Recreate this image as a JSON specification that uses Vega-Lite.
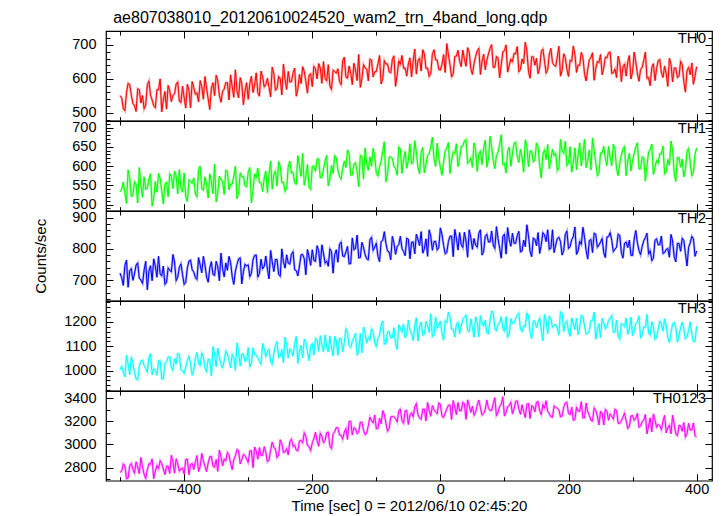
{
"$schema": "https://vega.github.io/schema/vega-lite/v6.json",
"padding": {"left": 33, "top": 9, "right": 5, "bottom": 0},
"background": "white",
"title": {"text": "ae807038010_20120610024520_wam2_trn_4band_long.qdp", "anchor": "start", "dx": 80, "offset": 4, "fontSize": 16, "font": "Liberation Sans", "fontWeight": "normal", "color": "#000"},
"data": {"values": [
{"t":-500,"a":551,"b":533,"c":722,"d":1005,"e":2760},
{"t":-497.5,"a":544,"b":540,"c":708,"d":1018,"e":2768},
{"t":-495,"a":513,"b":558,"c":683,"d":994,"e":2833},
{"t":-492.5,"a":506,"b":530,"c":747,"d":975,"e":2814},
{"t":-490,"a":559,"b":503,"c":764,"d":1063,"e":2704},
{"t":-487.5,"a":587,"b":590,"c":677,"d":1027,"e":2711},
{"t":-485,"a":584,"b":570,"c":730,"d":984,"e":2816},
{"t":-482.5,"a":552,"b":521,"c":737,"d":1057,"e":2836},
{"t":-480,"a":528,"b":524,"c":699,"d":1029,"e":2784},
{"t":-477.5,"a":521,"b":560,"c":720,"d":994,"e":2752},
{"t":-475,"a":504,"b":553,"c":748,"d":966,"e":2850},
{"t":-472.5,"a":571,"b":504,"c":755,"d":962,"e":2805},
{"t":-470,"a":568,"b":596,"c":706,"d":1019,"e":2747},
{"t":-467.5,"a":529,"b":550,"c":700,"d":1040,"e":2888},
{"t":-465,"a":551,"b":519,"c":689,"d":1044,"e":2807},
{"t":-462.5,"a":512,"b":572,"c":732,"d":1022,"e":2742},
{"t":-460,"a":523,"b":540,"c":760,"d":1009,"e":2705},
{"t":-457.5,"a":583,"b":541,"c":669,"d":994,"e":2782},
{"t":-455,"a":594,"b":566,"c":729,"d":1054,"e":2834},
{"t":-452.5,"a":552,"b":580,"c":746,"d":1070,"e":2829},
{"t":-450,"a":538,"b":496,"c":698,"d":983,"e":2875},
{"t":-447.5,"a":521,"b":517,"c":768,"d":1008,"e":2705},
{"t":-445,"a":515,"b":560,"c":744,"d":1000,"e":2766},
{"t":-442.5,"a":568,"b":532,"c":709,"d":981,"e":2819},
{"t":-440,"a":568,"b":581,"c":776,"d":1041,"e":2788},
{"t":-437.5,"a":600,"b":567,"c":720,"d":1042,"e":2860},
{"t":-435,"a":503,"b":536,"c":713,"d":966,"e":2835},
{"t":-432.5,"a":538,"b":502,"c":745,"d":967,"e":2788},
{"t":-430,"a":563,"b":554,"c":686,"d":1031,"e":2739},
{"t":-427.5,"a":511,"b":558,"c":693,"d":1036,"e":2812},
{"t":-425,"a":581,"b":520,"c":739,"d":1056,"e":2813},
{"t":-422.5,"a":565,"b":580,"c":732,"d":1057,"e":2749},
{"t":-420,"a":533,"b":573,"c":726,"d":1013,"e":2906},
{"t":-417.5,"a":552,"b":541,"c":782,"d":1001,"e":2848},
{"t":-415,"a":556,"b":587,"c":758,"d":1050,"e":2752},
{"t":-412.5,"a":585,"b":574,"c":698,"d":1027,"e":2876},
{"t":-410,"a":591,"b":528,"c":709,"d":1071,"e":2832},
{"t":-407.5,"a":535,"b":591,"c":741,"d":1068,"e":2768},
{"t":-405,"a":530,"b":543,"c":752,"d":1004,"e":2789},
{"t":-402.5,"a":579,"b":532,"c":717,"d":1000,"e":2796},
{"t":-400,"a":545,"b":582,"c":686,"d":989,"e":2745},
{"t":-397.5,"a":514,"b":519,"c":693,"d":1014,"e":2871},
{"t":-395,"a":584,"b":508,"c":739,"d":1043,"e":2873},
{"t":-392.5,"a":567,"b":564,"c":761,"d":1059,"e":2738},
{"t":-390,"a":515,"b":561,"c":764,"d":1032,"e":2825},
{"t":-387.5,"a":592,"b":555,"c":733,"d":981,"e":2836},
{"t":-385,"a":575,"b":569,"c":726,"d":1002,"e":2783},
{"t":-382.5,"a":555,"b":527,"c":708,"d":1050,"e":2851},
{"t":-380,"a":559,"b":520,"c":702,"d":1075,"e":2904},
{"t":-377.5,"a":532,"b":590,"c":772,"d":1032,"e":2767},
{"t":-375,"a":595,"b":600,"c":748,"d":1021,"e":2807},
{"t":-372.5,"a":578,"b":541,"c":723,"d":1073,"e":2923},
{"t":-370,"a":540,"b":537,"c":776,"d":1058,"e":2857},
{"t":-367.5,"a":607,"b":572,"c":748,"d":1011,"e":2810},
{"t":-365,"a":573,"b":551,"c":710,"d":996,"e":2766},
{"t":-362.5,"a":541,"b":517,"c":693,"d":1048,"e":2840},
{"t":-360,"a":510,"b":580,"c":738,"d":1045,"e":2894},
{"t":-357.5,"a":573,"b":559,"c":759,"d":978,"e":2896},
{"t":-355,"a":589,"b":528,"c":718,"d":1099,"e":2814},
{"t":-352.5,"a":551,"b":605,"c":715,"d":1067,"e":2803},
{"t":-350,"a":611,"b":507,"c":760,"d":1016,"e":2870},
{"t":-347.5,"a":594,"b":531,"c":743,"d":1093,"e":2768},
{"t":-345,"a":552,"b":574,"c":698,"d":1054,"e":2952},
{"t":-342.5,"a":531,"b":564,"c":786,"d":1026,"e":2896},
{"t":-340,"a":563,"b":561,"c":737,"d":1011,"e":2814},
{"t":-337.5,"a":570,"b":526,"c":710,"d":1040,"e":2874},
{"t":-335,"a":589,"b":589,"c":755,"d":1081,"e":2857},
{"t":-332.5,"a":589,"b":587,"c":731,"d":1069,"e":2931},
{"t":-330,"a":538,"b":538,"c":776,"d":1042,"e":2907},
{"t":-327.5,"a":612,"b":553,"c":756,"d":1011,"e":2838},
{"t":-325,"a":577,"b":553,"c":711,"d":1068,"e":2782},
{"t":-322.5,"a":546,"b":574,"c":686,"d":1056,"e":2869},
{"t":-320,"a":627,"b":599,"c":729,"d":1001,"e":2903},
{"t":-317.5,"a":564,"b":515,"c":750,"d":1114,"e":2957},
{"t":-315,"a":544,"b":530,"c":768,"d":1079,"e":2947},
{"t":-312.5,"a":604,"b":583,"c":771,"d":1019,"e":2832},
{"t":-310,"a":587,"b":572,"c":688,"d":1068,"e":2867},
{"t":-307.5,"a":524,"b":573,"c":727,"d":1069,"e":2914},
{"t":-305,"a":564,"b":549,"c":751,"d":1038,"e":2904},
{"t":-302.5,"a":589,"b":546,"c":745,"d":1042,"e":2874},
{"t":-300,"a":540,"b":585,"c":749,"d":1095,"e":2843},
{"t":-297.5,"a":587,"b":596,"c":711,"d":1016,"e":2944},
{"t":-295,"a":608,"b":505,"c":722,"d":1029,"e":2946},
{"t":-292.5,"a":560,"b":538,"c":765,"d":1094,"e":2799},
{"t":-290,"a":582,"b":580,"c":779,"d":1067,"e":2978},
{"t":-287.5,"a":618,"b":570,"c":780,"d":1064,"e":2942},
{"t":-285,"a":559,"b":595,"c":710,"d":1053,"e":2873},
{"t":-282.5,"a":549,"b":557,"c":721,"d":1038,"e":2973},
{"t":-280,"a":623,"b":557,"c":767,"d":1027,"e":2904},
{"t":-277.5,"a":607,"b":534,"c":736,"d":1112,"e":2907},
{"t":-275,"a":576,"b":569,"c":744,"d":1089,"e":2981},
{"t":-272.5,"a":583,"b":587,"c":777,"d":1058,"e":2932},
{"t":-270,"a":602,"b":531,"c":735,"d":1079,"e":2850},
{"t":-267.5,"a":575,"b":578,"c":704,"d":1088,"e":2866},
{"t":-265,"a":547,"b":613,"c":795,"d":1037,"e":2953},
{"t":-262.5,"a":635,"b":540,"c":758,"d":1026,"e":3021},
{"t":-260,"a":615,"b":578,"c":727,"d":1071,"e":2972},
{"t":-257.5,"a":567,"b":587,"c":766,"d":1104,"e":2962},
{"t":-255,"a":571,"b":548,"c":766,"d":1121,"e":2886},
{"t":-252.5,"a":607,"b":612,"c":718,"d":1054,"e":2908},
{"t":-250,"a":601,"b":598,"c":712,"d":1059,"e":3041},
{"t":-247.5,"a":553,"b":557,"c":800,"d":1088,"e":3006},
{"t":-245,"a":644,"b":558,"c":759,"d":1033,"e":2931},
{"t":-242.5,"a":599,"b":534,"c":738,"d":1138,"e":2935},
{"t":-240,"a":569,"b":542,"c":781,"d":1107,"e":2964},
{"t":-237.5,"a":622,"b":599,"c":754,"d":1052,"e":2910},
{"t":-235,"a":591,"b":613,"c":751,"d":1089,"e":3023},
{"t":-232.5,"a":592,"b":582,"c":783,"d":1078,"e":3047},
{"t":-230,"a":617,"b":583,"c":791,"d":1059,"e":2983},
{"t":-227.5,"a":632,"b":556,"c":733,"d":1108,"e":2995},
{"t":-225,"a":549,"b":553,"c":730,"d":1141,"e":2951},
{"t":-222.5,"a":570,"b":627,"c":713,"d":1030,"e":2944},
{"t":-220,"a":613,"b":600,"c":745,"d":1079,"e":3031},
{"t":-217.5,"a":586,"b":573,"c":781,"d":1104,"e":3035},
{"t":-215,"a":636,"b":633,"c":782,"d":1053,"e":3012},
{"t":-212.5,"a":622,"b":550,"c":768,"d":1130,"e":3101},
{"t":-210,"a":592,"b":572,"c":717,"d":1115,"e":3071},
{"t":-207.5,"a":558,"b":604,"c":798,"d":1080,"e":2991},
{"t":-205,"a":611,"b":545,"c":774,"d":1041,"e":2981},
{"t":-202.5,"a":615,"b":539,"c":747,"d":1102,"e":2946},
{"t":-200,"a":577,"b":599,"c":797,"d":1111,"e":3014},
{"t":-197.5,"a":637,"b":600,"c":763,"d":1064,"e":3050},
{"t":-195,"a":630,"b":586,"c":760,"d":1133,"e":3106},
{"t":-192.5,"a":600,"b":618,"c":810,"d":1126,"e":3032},
{"t":-190,"a":645,"b":619,"c":794,"d":1079,"e":2984},
{"t":-187.5,"a":632,"b":570,"c":742,"d":1144,"e":3099},
{"t":-185,"a":587,"b":570,"c":813,"d":1105,"e":3070},
{"t":-182.5,"a":651,"b":592,"c":786,"d":1078,"e":3015},
{"t":-180,"a":602,"b":613,"c":754,"d":1147,"e":3033},
{"t":-177.5,"a":594,"b":628,"c":761,"d":1096,"e":3102},
{"t":-175,"a":642,"b":548,"c":744,"d":1077,"e":3106},
{"t":-172.5,"a":579,"b":566,"c":800,"d":1142,"e":2986},
{"t":-170,"a":569,"b":602,"c":791,"d":1095,"e":2964},
{"t":-167.5,"a":626,"b":581,"c":722,"d":1060,"e":3091},
{"t":-165,"a":622,"b":627,"c":782,"d":1141,"e":3109},
{"t":-162.5,"a":617,"b":621,"c":797,"d":1122,"e":3145},
{"t":-160,"a":630,"b":589,"c":757,"d":1063,"e":3143},
{"t":-157.5,"a":592,"b":573,"c":814,"d":1132,"e":3081},
{"t":-155,"a":583,"b":566,"c":822,"d":1133,"e":3079},
{"t":-152.5,"a":653,"b":594,"c":777,"d":1078,"e":3044},
{"t":-150,"a":664,"b":613,"c":775,"d":1115,"e":3107},
{"t":-147.5,"a":605,"b":596,"c":790,"d":1172,"e":3137},
{"t":-145,"a":602,"b":642,"c":808,"d":1157,"e":3043},
{"t":-142.5,"a":638,"b":632,"c":752,"d":1102,"e":3197},
{"t":-140,"a":617,"b":576,"c":753,"d":1095,"e":3200},
{"t":-137.5,"a":583,"b":577,"c":835,"d":1120,"e":3081},
{"t":-135,"a":646,"b":605,"c":797,"d":1136,"e":3144},
{"t":-132.5,"a":626,"b":609,"c":801,"d":1154,"e":3137},
{"t":-130,"a":595,"b":585,"c":844,"d":1063,"e":3093},
{"t":-127.5,"a":672,"b":546,"c":771,"d":1080,"e":3106},
{"t":-125,"a":575,"b":628,"c":772,"d":1153,"e":3192},
{"t":-122.5,"a":600,"b":625,"c":821,"d":1074,"e":3192},
{"t":-120,"a":642,"b":566,"c":805,"d":1179,"e":3122},
{"t":-117.5,"a":632,"b":647,"c":781,"d":1152,"e":3083},
{"t":-115,"a":629,"b":606,"c":768,"d":1113,"e":3098},
{"t":-112.5,"a":594,"b":589,"c":765,"d":1138,"e":3163},
{"t":-110,"a":658,"b":624,"c":829,"d":1127,"e":3236},
{"t":-107.5,"a":655,"b":599,"c":837,"d":1172,"e":3203},
{"t":-105,"a":606,"b":646,"c":795,"d":1157,"e":3185},
{"t":-102.5,"a":621,"b":625,"c":806,"d":1114,"e":3254},
{"t":-100,"a":622,"b":581,"c":818,"d":1099,"e":3135},
{"t":-97.5,"a":644,"b":574,"c":776,"d":1132,"e":3138},
{"t":-95,"a":669,"b":599,"c":759,"d":1146,"e":3226},
{"t":-92.5,"a":585,"b":613,"c":823,"d":1187,"e":3178},
{"t":-90,"a":600,"b":639,"c":827,"d":1204,"e":3292},
{"t":-87.5,"a":654,"b":663,"c":855,"d":1109,"e":3257},
{"t":-85,"a":644,"b":559,"c":817,"d":1111,"e":3182},
{"t":-82.5,"a":644,"b":580,"c":793,"d":1160,"e":3114},
{"t":-80,"a":621,"b":623,"c":790,"d":1161,"e":3137},
{"t":-77.5,"a":618,"b":624,"c":765,"d":1134,"e":3238},
{"t":-75,"a":657,"b":620,"c":840,"d":1136,"e":3241},
{"t":-72.5,"a":668,"b":598,"c":819,"d":1177,"e":3239},
{"t":-70,"a":578,"b":594,"c":782,"d":1110,"e":3222},
{"t":-67.5,"a":611,"b":576,"c":807,"d":1087,"e":3194},
{"t":-65,"a":653,"b":650,"c":814,"d":1189,"e":3288},
{"t":-62.5,"a":643,"b":644,"c":840,"d":1174,"e":3305},
{"t":-60,"a":669,"b":581,"c":801,"d":1159,"e":3204},
{"t":-57.5,"a":631,"b":617,"c":791,"d":1192,"e":3182},
{"t":-55,"a":632,"b":638,"c":778,"d":1134,"e":3289},
{"t":-52.5,"a":608,"b":594,"c":834,"d":1151,"e":3293},
{"t":-50,"a":644,"b":615,"c":831,"d":1208,"e":3172},
{"t":-47.5,"a":662,"b":658,"c":768,"d":1165,"e":3252},
{"t":-45,"a":606,"b":606,"c":821,"d":1154,"e":3274},
{"t":-42.5,"a":652,"b":609,"c":822,"d":1123,"e":3237},
{"t":-40,"a":688,"b":666,"c":784,"d":1184,"e":3324},
{"t":-37.5,"a":614,"b":635,"c":847,"d":1217,"e":3352},
{"t":-35,"a":654,"b":597,"c":830,"d":1122,"e":3257},
{"t":-32.5,"a":661,"b":580,"c":810,"d":1179,"e":3227},
{"t":-30,"a":623,"b":636,"c":855,"d":1200,"e":3216},
{"t":-27.5,"a":686,"b":648,"c":786,"d":1145,"e":3303},
{"t":-25,"a":673,"b":582,"c":800,"d":1150,"e":3305},
{"t":-22.5,"a":631,"b":603,"c":832,"d":1203,"e":3203},
{"t":-20,"a":632,"b":628,"c":776,"d":1184,"e":3362},
{"t":-17.5,"a":607,"b":632,"c":861,"d":1157,"e":3292},
{"t":-15,"a":616,"b":650,"c":840,"d":1234,"e":3243},
{"t":-12.5,"a":672,"b":675,"c":795,"d":1139,"e":3336},
{"t":-10,"a":686,"b":619,"c":823,"d":1146,"e":3299},
{"t":-7.5,"a":656,"b":599,"c":824,"d":1221,"e":3282},
{"t":-5,"a":656,"b":659,"c":796,"d":1174,"e":3265},
{"t":-2.5,"a":628,"b":621,"c":804,"d":1187,"e":3358},
{"t":0,"a":626,"b":597,"c":867,"d":1204,"e":3347},
{"t":2.5,"a":643,"b":576,"c":846,"d":1152,"e":3244},
{"t":5,"a":672,"b":611,"c":811,"d":1125,"e":3232},
{"t":7.5,"a":619,"b":640,"c":784,"d":1205,"e":3271},
{"t":10,"a":704,"b":647,"c":788,"d":1197,"e":3305},
{"t":12.5,"a":672,"b":661,"c":823,"d":1241,"e":3338},
{"t":15,"a":641,"b":581,"c":840,"d":1222,"e":3339},
{"t":17.5,"a":606,"b":616,"c":841,"d":1170,"e":3215},
{"t":20,"a":614,"b":637,"c":775,"d":1170,"e":3379},
{"t":22.5,"a":666,"b":633,"c":862,"d":1138,"e":3321},
{"t":25,"a":667,"b":658,"c":834,"d":1190,"e":3257},
{"t":27.5,"a":684,"b":599,"c":796,"d":1199,"e":3362},
{"t":30,"a":653,"b":620,"c":852,"d":1151,"e":3291},
{"t":32.5,"a":636,"b":651,"c":814,"d":1183,"e":3291},
{"t":35,"a":685,"b":652,"c":804,"d":1211,"e":3364},
{"t":37.5,"a":657,"b":665,"c":853,"d":1220,"e":3351},
{"t":40,"a":637,"b":669,"c":825,"d":1228,"e":3216},
{"t":42.5,"a":692,"b":607,"c":773,"d":1164,"e":3385},
{"t":45,"a":679,"b":611,"c":861,"d":1160,"e":3335},
{"t":47.5,"a":630,"b":621,"c":836,"d":1213,"e":3276},
{"t":50,"a":613,"b":597,"c":798,"d":1177,"e":3330},
{"t":52.5,"a":645,"b":660,"c":833,"d":1137,"e":3252},
{"t":55,"a":666,"b":642,"c":812,"d":1221,"e":3278},
{"t":57.5,"a":683,"b":586,"c":805,"d":1198,"e":3337},
{"t":60,"a":690,"b":632,"c":850,"d":1138,"e":3383},
{"t":62.5,"a":613,"b":639,"c":861,"d":1226,"e":3318},
{"t":65,"a":652,"b":604,"c":780,"d":1199,"e":3253},
{"t":67.5,"a":673,"b":646,"c":791,"d":1183,"e":3266},
{"t":70,"a":627,"b":667,"c":840,"d":1207,"e":3300},
{"t":72.5,"a":655,"b":597,"c":847,"d":1155,"e":3384},
{"t":75,"a":673,"b":618,"c":822,"d":1152,"e":3313},
{"t":77.5,"a":690,"b":677,"c":822,"d":1208,"e":3294},
{"t":80,"a":701,"b":649,"c":857,"d":1244,"e":3293},
{"t":82.5,"a":634,"b":614,"c":812,"d":1240,"e":3352},
{"t":85,"a":634,"b":593,"c":801,"d":1172,"e":3404},
{"t":87.5,"a":666,"b":628,"c":871,"d":1164,"e":3249},
{"t":90,"a":662,"b":635,"c":833,"d":1189,"e":3275},
{"t":92.5,"a":603,"b":656,"c":801,"d":1197,"e":3327},
{"t":95,"a":641,"b":681,"c":770,"d":1222,"e":3347},
{"t":97.5,"a":680,"b":604,"c":840,"d":1174,"e":3412},
{"t":100,"a":683,"b":607,"c":847,"d":1162,"e":3244},
{"t":102.5,"a":700,"b":582,"c":783,"d":1222,"e":3276},
{"t":105,"a":620,"b":639,"c":868,"d":1138,"e":3327},
{"t":107.5,"a":640,"b":649,"c":829,"d":1150,"e":3334},
{"t":110,"a":658,"b":599,"c":808,"d":1214,"e":3365},
{"t":112.5,"a":650,"b":634,"c":850,"d":1194,"e":3262},
{"t":115,"a":675,"b":659,"c":818,"d":1197,"e":3306},
{"t":117.5,"a":674,"b":662,"c":818,"d":1213,"e":3371},
{"t":120,"a":695,"b":624,"c":842,"d":1229,"e":3376},
{"t":122.5,"a":621,"b":609,"c":856,"d":1237,"e":3305},
{"t":125,"a":628,"b":644,"c":790,"d":1169,"e":3258},
{"t":127.5,"a":659,"b":622,"c":793,"d":1161,"e":3343},
{"t":130,"a":645,"b":584,"c":828,"d":1185,"e":3283},
{"t":132.5,"a":708,"b":668,"c":807,"d":1181,"e":3231},
{"t":135,"a":683,"b":651,"c":877,"d":1237,"e":3347},
{"t":137.5,"a":623,"b":598,"c":842,"d":1225,"e":3353},
{"t":140,"a":602,"b":639,"c":792,"d":1156,"e":3223},
{"t":142.5,"a":665,"b":639,"c":775,"d":1132,"e":3333},
{"t":145,"a":665,"b":611,"c":834,"d":1204,"e":3326},
{"t":147.5,"a":640,"b":615,"c":831,"d":1204,"e":3280},
{"t":150,"a":661,"b":660,"c":810,"d":1176,"e":3364},
{"t":152.5,"a":615,"b":650,"c":852,"d":1200,"e":3369},
{"t":155,"a":632,"b":601,"c":785,"d":1216,"e":3290},
{"t":157.5,"a":681,"b":569,"c":813,"d":1168,"e":3257},
{"t":160,"a":688,"b":631,"c":852,"d":1123,"e":3346},
{"t":162.5,"a":653,"b":642,"c":845,"d":1231,"e":3313},
{"t":165,"a":617,"b":617,"c":823,"d":1207,"e":3377},
{"t":167.5,"a":627,"b":656,"c":861,"d":1151,"e":3285},
{"t":170,"a":673,"b":593,"c":798,"d":1223,"e":3265},
{"t":172.5,"a":690,"b":617,"c":802,"d":1215,"e":3238},
{"t":175,"a":648,"b":644,"c":861,"d":1178,"e":3235},
{"t":177.5,"a":640,"b":627,"c":788,"d":1186,"e":3333},
{"t":180,"a":637,"b":634,"c":812,"d":1190,"e":3319},
{"t":182.5,"a":665,"b":588,"c":833,"d":1174,"e":3312},
{"t":185,"a":696,"b":595,"c":837,"d":1146,"e":3298},
{"t":187.5,"a":608,"b":669,"c":823,"d":1242,"e":3238},
{"t":190,"a":625,"b":640,"c":780,"d":1237,"e":3244},
{"t":192.5,"a":674,"b":633,"c":794,"d":1161,"e":3321},
{"t":195,"a":663,"b":664,"c":846,"d":1197,"e":3359},
{"t":197.5,"a":628,"b":601,"c":857,"d":1205,"e":3364},
{"t":200,"a":607,"b":608,"c":801,"d":1161,"e":3266},
{"t":202.5,"a":655,"b":650,"c":807,"d":1141,"e":3257},
{"t":205,"a":652,"b":584,"c":829,"d":1217,"e":3321},
{"t":207.5,"a":697,"b":608,"c":839,"d":1192,"e":3209},
{"t":210,"a":672,"b":647,"c":870,"d":1168,"e":3213},
{"t":212.5,"a":619,"b":590,"c":782,"d":1216,"e":3322},
{"t":215,"a":640,"b":628,"c":793,"d":1148,"e":3288},
{"t":217.5,"a":640,"b":660,"c":824,"d":1179,"e":3286},
{"t":220,"a":678,"b":600,"c":814,"d":1227,"e":3369},
{"t":222.5,"a":664,"b":628,"c":869,"d":1223,"e":3230},
{"t":225,"a":615,"b":670,"c":837,"d":1183,"e":3229},
{"t":227.5,"a":594,"b":596,"c":795,"d":1150,"e":3357},
{"t":230,"a":628,"b":614,"c":767,"d":1154,"e":3284},
{"t":232.5,"a":656,"b":642,"c":826,"d":1166,"e":3249},
{"t":235,"a":663,"b":590,"c":830,"d":1206,"e":3209},
{"t":237.5,"a":677,"b":673,"c":788,"d":1206,"e":3201},
{"t":240,"a":596,"b":641,"c":850,"d":1241,"e":3316},
{"t":242.5,"a":630,"b":610,"c":847,"d":1129,"e":3294},
{"t":245,"a":651,"b":575,"c":805,"d":1169,"e":3247},
{"t":247.5,"a":648,"b":582,"c":812,"d":1193,"e":3168},
{"t":250,"a":672,"b":634,"c":822,"d":1136,"e":3283},
{"t":252.5,"a":612,"b":634,"c":833,"d":1216,"e":3274},
{"t":255,"a":632,"b":651,"c":787,"d":1196,"e":3168},
{"t":257.5,"a":664,"b":619,"c":772,"d":1172,"e":3303},
{"t":260,"a":662,"b":601,"c":838,"d":1179,"e":3287},
{"t":262.5,"a":677,"b":651,"c":839,"d":1207,"e":3208},
{"t":265,"a":679,"b":622,"c":852,"d":1215,"e":3264},
{"t":267.5,"a":616,"b":601,"c":827,"d":1226,"e":3243},
{"t":270,"a":618,"b":657,"c":791,"d":1158,"e":3218},
{"t":272.5,"a":629,"b":643,"c":799,"d":1158,"e":3304},
{"t":275,"a":604,"b":593,"c":805,"d":1208,"e":3295},
{"t":277.5,"a":667,"b":575,"c":847,"d":1142,"e":3183},
{"t":280,"a":648,"b":607,"c":843,"d":1129,"e":3181},
{"t":282.5,"a":592,"b":628,"c":788,"d":1193,"e":3205},
{"t":285,"a":636,"b":645,"c":770,"d":1189,"e":3235},
{"t":287.5,"a":644,"b":651,"c":818,"d":1181,"e":3272},
{"t":290,"a":608,"b":575,"c":822,"d":1216,"e":3205},
{"t":292.5,"a":650,"b":613,"c":804,"d":1149,"e":3138},
{"t":295,"a":669,"b":633,"c":828,"d":1172,"e":3156},
{"t":297.5,"a":600,"b":587,"c":779,"d":1220,"e":3245},
{"t":300,"a":620,"b":615,"c":779,"d":1143,"e":3249},
{"t":302.5,"a":679,"b":633,"c":831,"d":1163,"e":3208},
{"t":305,"a":650,"b":650,"c":859,"d":1194,"e":3225},
{"t":307.5,"a":615,"b":660,"c":820,"d":1198,"e":3268},
{"t":310,"a":593,"b":593,"c":795,"d":1225,"e":3148},
{"t":312.5,"a":628,"b":593,"c":781,"d":1133,"e":3159},
{"t":315,"a":634,"b":624,"c":808,"d":1148,"e":3195},
{"t":317.5,"a":655,"b":621,"c":826,"d":1180,"e":3213},
{"t":320,"a":679,"b":561,"c":836,"d":1179,"e":3258},
{"t":322.5,"a":602,"b":600,"c":850,"d":1231,"e":3091},
{"t":325,"a":604,"b":637,"c":783,"d":1154,"e":3159},
{"t":327.5,"a":580,"b":642,"c":794,"d":1146,"e":3229},
{"t":330,"a":634,"b":657,"c":762,"d":1201,"e":3108},
{"t":332.5,"a":645,"b":578,"c":770,"d":1181,"e":3263},
{"t":335,"a":595,"b":597,"c":827,"d":1128,"e":3210},
{"t":337.5,"a":630,"b":615,"c":832,"d":1136,"e":3147},
{"t":340,"a":654,"b":607,"c":813,"d":1171,"e":3173},
{"t":342.5,"a":657,"b":632,"c":813,"d":1203,"e":3162},
{"t":345,"a":618,"b":631,"c":841,"d":1190,"e":3126},
{"t":347.5,"a":604,"b":652,"c":785,"d":1162,"e":3202},
{"t":350,"a":638,"b":579,"c":788,"d":1213,"e":3251},
{"t":352.5,"a":616,"b":585,"c":798,"d":1185,"e":3100},
{"t":355,"a":578,"b":617,"c":801,"d":1136,"e":3142},
{"t":357.5,"a":661,"b":602,"c":773,"d":1116,"e":3166},
{"t":360,"a":643,"b":665,"c":846,"d":1155,"e":3091},
{"t":362.5,"a":591,"b":641,"c":825,"d":1191,"e":3252},
{"t":365,"a":632,"b":581,"c":775,"d":1198,"e":3174},
{"t":367.5,"a":632,"b":560,"c":758,"d":1178,"e":3091},
{"t":370,"a":604,"b":622,"c":817,"d":1117,"e":3075},
{"t":372.5,"a":608,"b":622,"c":817,"d":1145,"e":3164},
{"t":375,"a":652,"b":597,"c":792,"d":1176,"e":3161},
{"t":377.5,"a":642,"b":618,"c":834,"d":1200,"e":3114},
{"t":380,"a":592,"b":572,"c":827,"d":1171,"e":3189},
{"t":382.5,"a":561,"b":590,"c":785,"d":1131,"e":3063},
{"t":385,"a":624,"b":638,"c":745,"d":1138,"e":3092},
{"t":387.5,"a":634,"b":646,"c":805,"d":1166,"e":3182},
{"t":390,"a":612,"b":609,"c":819,"d":1201,"e":3123},
{"t":392.5,"a":647,"b":575,"c":840,"d":1149,"e":3125},
{"t":395,"a":584,"b":584,"c":832,"d":1120,"e":3186},
{"t":397.5,"a":609,"b":630,"c":776,"d":1120,"e":3074},
{"t":400,"a":636,"b":647,"c":793,"d":1183,"e":3065}
]},
"spacing": 0,
"bounds": "flush",
"vconcat": [
{
 "width": 606, "height": 89.7,
 "resolve": {"axis": {"x": "independent", "y": "independent"}},
 "layer": [
  {"mark": {"type": "line", "color": "#ff0000", "strokeWidth": 2.4, "opacity": 0.35, "clip": true},
   "encoding": {
    "x": {"field": "t", "type": "quantitative", "scale": {"domain": [-522, 424], "nice": false, "zero": false},
          "axis": {"orient": "top", "labels": false, "title": null, "values": [-500,-400,-300,-200,-100,0,100,200,300,400], "tickSize": {"condition": {"test": "datum.value % 200 === 0", "value": -7}, "value": -4}}},
    "y": {"field": "a", "type": "quantitative", "scale": {"domain": [477, 741], "nice": false, "zero": false},
          "axis": {"orient": "right", "labels": false, "title": null, "values": [480,500,520,540,560,580,600,620,640,660,680,700,720,740], "tickSize": {"condition": {"test": "datum.value % 100 === 0", "value": -7}, "value": -4}}}
   }},
  {"mark": {"type": "line", "color": "#ff0000", "strokeWidth": 1, "clip": true},
   "encoding": {
    "x": {"field": "t", "type": "quantitative",
          "axis": {"orient": "bottom", "labels": false, "title": null, "values": [-500,-400,-300,-200,-100,0,100,200,300,400], "tickSize": {"condition": {"test": "datum.value % 200 === 0", "value": -7}, "value": -4}}},
    "y": {"field": "a", "type": "quantitative",
          "axis": {"orient": "left", "title": null, "format": "d", "values": [480,500,520,540,560,580,600,620,640,660,680,700,720,740], "tickSize": {"condition": {"test": "datum.value % 100 === 0", "value": -7}, "value": -4}, "labelFontSize": {"condition": {"test": "datum.value % 100 === 0", "value": 14.5}, "value": 0}, "labelExpr": "datum.value % 100 === 0 ? datum.label : ''"}}
   }},
  {"data": {"values": [{"n": "TH0"}]},
   "mark": {"type": "text", "align": "right", "baseline": "top", "dx": -6, "dy": 0, "fontSize": 15, "font": "Liberation Sans", "color": "#000"},
   "encoding": {"x": {"datum": 424, "type": "quantitative", "axis": null}, "y": {"datum": 741, "type": "quantitative", "axis": null}, "text": {"field": "n"}}}
 ]
},
{
 "width": 606, "height": 89.7,
 "resolve": {"axis": {"x": "independent", "y": "independent"}},
 "layer": [
  {"mark": {"type": "line", "color": "#00ff00", "strokeWidth": 2.4, "opacity": 0.35, "clip": true},
   "encoding": {
    "x": {"field": "t", "type": "quantitative", "scale": {"domain": [-522, 424], "nice": false, "zero": false},
          "axis": {"orient": "top", "labels": false, "title": null, "values": [-500,-400,-300,-200,-100,0,100,200,300,400], "tickSize": {"condition": {"test": "datum.value % 200 === 0", "value": -7}, "value": -4}}},
    "y": {"field": "b", "type": "quantitative", "scale": {"domain": [484, 717], "nice": false, "zero": false},
          "axis": {"orient": "right", "labels": false, "title": null, "values": [490,500,510,520,530,540,550,560,570,580,590,600,610,620,630,640,650,660,670,680,690,700,710], "tickSize": {"condition": {"test": "datum.value % 50 === 0", "value": -7}, "value": -4}}}
   }},
  {"mark": {"type": "line", "color": "#00ff00", "strokeWidth": 1, "clip": true},
   "encoding": {
    "x": {"field": "t", "type": "quantitative",
          "axis": {"orient": "bottom", "labels": false, "title": null, "values": [-500,-400,-300,-200,-100,0,100,200,300,400], "tickSize": {"condition": {"test": "datum.value % 200 === 0", "value": -7}, "value": -4}}},
    "y": {"field": "b", "type": "quantitative",
          "axis": {"orient": "left", "title": null, "format": "d", "values": [490,500,510,520,530,540,550,560,570,580,590,600,610,620,630,640,650,660,670,680,690,700,710], "tickSize": {"condition": {"test": "datum.value % 50 === 0", "value": -7}, "value": -4}, "labelFontSize": {"condition": {"test": "datum.value % 50 === 0", "value": 14.5}, "value": 0}, "labelExpr": "datum.value % 50 === 0 ? datum.label : ''"}}
   }},
  {"data": {"values": [{"n": "TH1"}]},
   "mark": {"type": "text", "align": "right", "baseline": "top", "dx": -6, "dy": 0, "fontSize": 15, "font": "Liberation Sans", "color": "#000"},
   "encoding": {"x": {"datum": 424, "type": "quantitative", "axis": null}, "y": {"datum": 717, "type": "quantitative", "axis": null}, "text": {"field": "n"}}}
 ]
},
{
 "width": 606, "height": 89.7,
 "resolve": {"axis": {"x": "independent", "y": "independent"}},
 "layer": [
  {"mark": {"type": "line", "color": "#0000ff", "strokeWidth": 2.4, "opacity": 0.35, "clip": true},
   "encoding": {
    "x": {"field": "t", "type": "quantitative", "scale": {"domain": [-522, 424], "nice": false, "zero": false},
          "axis": {"orient": "top", "labels": false, "title": null, "values": [-500,-400,-300,-200,-100,0,100,200,300,400], "tickSize": {"condition": {"test": "datum.value % 200 === 0", "value": -7}, "value": -4}}},
    "y": {"field": "c", "type": "quantitative", "scale": {"domain": [634, 921], "nice": false, "zero": false},
          "axis": {"orient": "right", "labels": false, "title": null, "values": [640,660,680,700,720,740,760,780,800,820,840,860,880,900,920], "tickSize": {"condition": {"test": "datum.value % 100 === 0", "value": -7}, "value": -4}}}
   }},
  {"mark": {"type": "line", "color": "#0000ff", "strokeWidth": 1, "clip": true},
   "encoding": {
    "x": {"field": "t", "type": "quantitative",
          "axis": {"orient": "bottom", "labels": false, "title": null, "values": [-500,-400,-300,-200,-100,0,100,200,300,400], "tickSize": {"condition": {"test": "datum.value % 200 === 0", "value": -7}, "value": -4}}},
    "y": {"field": "c", "type": "quantitative",
          "axis": {"orient": "left", "title": "Counts/sec", "titlePadding": 23, "format": "d", "values": [640,660,680,700,720,740,760,780,800,820,840,860,880,900,920], "tickSize": {"condition": {"test": "datum.value % 100 === 0", "value": -7}, "value": -4}, "labelFontSize": {"condition": {"test": "datum.value % 100 === 0", "value": 14.5}, "value": 0}, "labelExpr": "datum.value % 100 === 0 ? datum.label : ''"}}
   }},
  {"data": {"values": [{"n": "TH2"}]},
   "mark": {"type": "text", "align": "right", "baseline": "top", "dx": -6, "dy": 0, "fontSize": 15, "font": "Liberation Sans", "color": "#000"},
   "encoding": {"x": {"datum": 424, "type": "quantitative", "axis": null}, "y": {"datum": 921, "type": "quantitative", "axis": null}, "text": {"field": "n"}}}
 ]
},
{
 "width": 606, "height": 89.7,
 "resolve": {"axis": {"x": "independent", "y": "independent"}},
 "layer": [
  {"mark": {"type": "line", "color": "#00ffff", "strokeWidth": 2.4, "opacity": 0.35, "clip": true},
   "encoding": {
    "x": {"field": "t", "type": "quantitative", "scale": {"domain": [-522, 424], "nice": false, "zero": false},
          "axis": {"orient": "top", "labels": false, "title": null, "values": [-500,-400,-300,-200,-100,0,100,200,300,400], "tickSize": {"condition": {"test": "datum.value % 200 === 0", "value": -7}, "value": -4}}},
    "y": {"field": "d", "type": "quantitative", "scale": {"domain": [918, 1286], "nice": false, "zero": false},
          "axis": {"orient": "right", "labels": false, "title": null, "values": [920,940,960,980,1000,1020,1040,1060,1080,1100,1120,1140,1160,1180,1200,1220,1240,1260,1280], "tickSize": {"condition": {"test": "datum.value % 100 === 0", "value": -7}, "value": -4}}}
   }},
  {"mark": {"type": "line", "color": "#00ffff", "strokeWidth": 1, "clip": true},
   "encoding": {
    "x": {"field": "t", "type": "quantitative",
          "axis": {"orient": "bottom", "labels": false, "title": null, "values": [-500,-400,-300,-200,-100,0,100,200,300,400], "tickSize": {"condition": {"test": "datum.value % 200 === 0", "value": -7}, "value": -4}}},
    "y": {"field": "d", "type": "quantitative",
          "axis": {"orient": "left", "title": null, "format": "d", "values": [920,940,960,980,1000,1020,1040,1060,1080,1100,1120,1140,1160,1180,1200,1220,1240,1260,1280], "tickSize": {"condition": {"test": "datum.value % 100 === 0", "value": -7}, "value": -4}, "labelFontSize": {"condition": {"test": "datum.value % 100 === 0", "value": 14.5}, "value": 0}, "labelExpr": "datum.value % 100 === 0 ? datum.label : ''"}}
   }},
  {"data": {"values": [{"n": "TH3"}]},
   "mark": {"type": "text", "align": "right", "baseline": "top", "dx": -6, "dy": 0, "fontSize": 15, "font": "Liberation Sans", "color": "#000"},
   "encoding": {"x": {"datum": 424, "type": "quantitative", "axis": null}, "y": {"datum": 1286, "type": "quantitative", "axis": null}, "text": {"field": "n"}}}
 ]
},
{
 "width": 606, "height": 89.7,
 "resolve": {"axis": {"x": "independent", "y": "independent"}},
 "layer": [
  {"mark": {"type": "line", "color": "#ff00ff", "strokeWidth": 2.4, "opacity": 0.35, "clip": true},
   "encoding": {
    "x": {"field": "t", "type": "quantitative", "scale": {"domain": [-522, 424], "nice": false, "zero": false},
          "axis": {"orient": "top", "labels": false, "title": null, "values": [-500,-400,-300,-200,-100,0,100,200,300,400], "tickSize": {"condition": {"test": "datum.value % 200 === 0", "value": -7}, "value": -4}}},
    "y": {"field": "e", "type": "quantitative", "scale": {"domain": [2687, 3461], "nice": false, "zero": false},
          "axis": {"orient": "right", "labels": false, "title": null, "values": [2700,2800,2900,3000,3100,3200,3300,3400], "tickSize": {"condition": {"test": "datum.value % 200 === 0", "value": -7}, "value": -4}}}
   }},
  {"mark": {"type": "line", "color": "#ff00ff", "strokeWidth": 1, "clip": true},
   "encoding": {
    "x": {"field": "t", "type": "quantitative",
          "axis": {"orient": "bottom", "title": "Time [sec] 0 = 2012/06/10 02:45:20", "titlePadding": 2, "labelPadding": 9, "format": "d", "values": [-500,-400,-300,-200,-100,0,100,200,300,400], "tickSize": {"condition": {"test": "datum.value % 200 === 0", "value": -7}, "value": -4}, "labelFontSize": {"condition": {"test": "datum.value % 200 === 0", "value": 14.5}, "value": 0}, "labelExpr": "datum.value % 200 === 0 ? datum.label : ''"}},
    "y": {"field": "e", "type": "quantitative",
          "axis": {"orient": "left", "title": null, "format": "d", "values": [2700,2800,2900,3000,3100,3200,3300,3400], "tickSize": {"condition": {"test": "datum.value % 200 === 0", "value": -7}, "value": -4}, "labelFontSize": {"condition": {"test": "datum.value % 200 === 0", "value": 14.5}, "value": 0}, "labelExpr": "datum.value % 200 === 0 ? datum.label : ''"}}
   }},
  {"data": {"values": [{"n": "TH0123"}]},
   "mark": {"type": "text", "align": "right", "baseline": "top", "dx": -6, "dy": 0, "fontSize": 15, "font": "Liberation Sans", "color": "#000"},
   "encoding": {"x": {"datum": 424, "type": "quantitative", "axis": null}, "y": {"datum": 3461, "type": "quantitative", "axis": null}, "text": {"field": "n"}}}
 ]
}
],
"config": {
 "view": {"stroke": "#000", "strokeWidth": 1.2},
 "axis": {"domain": false, "grid": false, "tickColor": "#000", "tickWidth": 1, "labelFont": "Liberation Sans", "labelFontSize": 14.5, "labelColor": "#000", "labelPadding": 17, "labelOverlap": false, "labelFlush": false, "titleFont": "Liberation Sans", "titleFontSize": 15, "titleFontWeight": "normal", "titleColor": "#000"},
 "title": {"font": "Liberation Sans", "fontSize": 15, "fontWeight": "normal", "color": "#000"}
}
}
